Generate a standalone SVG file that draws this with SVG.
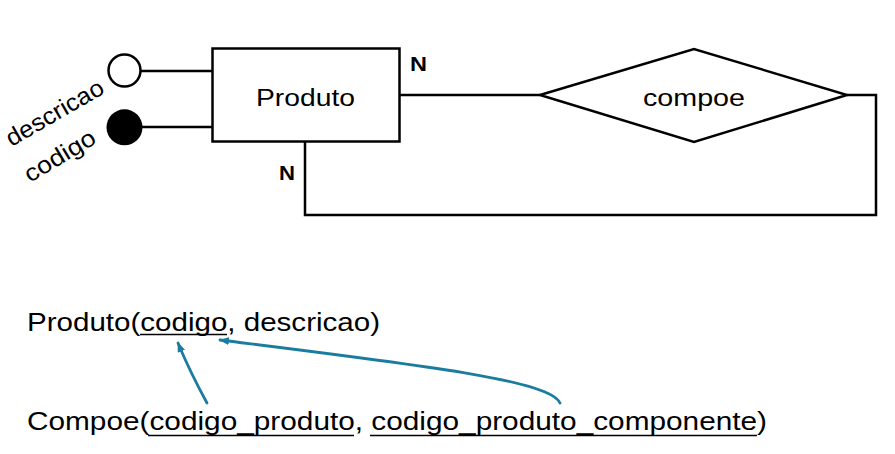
<svg xmlns="http://www.w3.org/2000/svg" width="895" height="454" viewBox="0 0 895 454">
  <defs>
    <marker id="ah" viewBox="0 0 10 8" refX="9" refY="4" markerWidth="10" markerHeight="8" markerUnits="userSpaceOnUse" orient="auto">
      <path d="M0,0 L10,4 L0,8 z" fill="#1b7c9f"/>
    </marker>
  </defs>
  <style>
    .ln { fill: none; stroke: #000; stroke-width: 2.5; }
    .shape { fill: #fff; stroke: #000; stroke-width: 2.5; }
    .t { font-family: "Liberation Sans", Arial, sans-serif; fill: #000; }
    .lbl { font-size: 23px; }
    .att { font-size: 24px; }
    .card { font-size: 20px; font-weight: bold; }
    .rel { font-size: 25px; }
    .ul { stroke: #000; stroke-width: 1.6; }
    .fk { fill: none; stroke: #1b7c9f; stroke-width: 2.8; stroke-linecap: round; marker-end: url(#ah); }
  </style>
  <rect width="895" height="454" fill="#fff"/>

  <g id="connectors">
    <line class="ln" x1="141" y1="71" x2="212.5" y2="71"/>
    <line class="ln" x1="142" y1="127" x2="212.5" y2="127"/>
    <line class="ln" x1="399.5" y1="95" x2="540" y2="95"/>
    <path class="ln" d="M847,95 H876 V215 H305 V141.5"/>
  </g>

  <g id="produto">
    <rect class="shape" x="212.5" y="48.5" width="187" height="93"/>
    <text class="t lbl" x="256" y="106" textLength="99" lengthAdjust="spacingAndGlyphs">Produto</text>
    <text class="t card" x="410" y="70.5" textLength="17" lengthAdjust="spacingAndGlyphs">N</text>
    <text class="t card" x="279" y="180" textLength="16" lengthAdjust="spacingAndGlyphs">N</text>
  </g>

  <g id="compoe">
    <polygon class="shape" points="540,95 694,49 847,95 694,142"/>
    <text class="t lbl" x="643" y="106" textLength="102" lengthAdjust="spacingAndGlyphs">compoe</text>
  </g>

  <g id="attr-descricao">
    <circle class="shape" cx="124.5" cy="70.5" r="16"/>
    <text class="t att" x="11.5" y="147" transform="rotate(-30 11.5 147)" textLength="109" lengthAdjust="spacingAndGlyphs">descricao</text>
  </g>

  <g id="attr-codigo">
    <circle cx="124.5" cy="127.3" r="18" fill="#000"/>
    <text class="t att" x="30" y="183" transform="rotate(-31 30 183)" textLength="79" lengthAdjust="spacingAndGlyphs">codigo</text>
  </g>

  <g id="relation-produto">
    <text class="t rel" x="27" y="331" textLength="353" lengthAdjust="spacingAndGlyphs">Produto(codigo, descricao)</text>
    <line class="ul" x1="140" y1="334.5" x2="227" y2="334.5"/>
  </g>

  <g id="relation-compoe">
    <text class="t rel" x="27" y="430" textLength="740" lengthAdjust="spacingAndGlyphs">Compoe(codigo_produto, codigo_produto_componente)</text>
    <line class="ul" x1="148" y1="435.5" x2="354" y2="435.5"/>
    <line class="ul" x1="370" y1="435.5" x2="757" y2="435.5"/>
  </g>

  <g id="fk-arrows">
    <path class="fk" d="M207,403 Q190,372 178,343"/>
    <path class="fk" d="M560,403 C550,380 420,365 220,340"/>
  </g>
</svg>
